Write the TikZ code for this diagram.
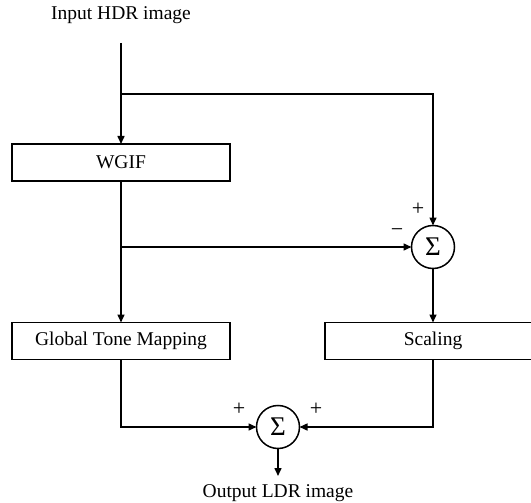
\documentclass[tikz,border=0pt]{standalone}
\usepackage{fontspec}
\setmainfont{Liberation Serif}
\usetikzlibrary{arrows.meta}
\begin{document}
\begin{tikzpicture}[x=1pt,y=-1pt,
  every node/.style={font=\fontsize{19.5}{22}\selectfont},
  blk/.style={draw,line width=1.5pt,rectangle,inner sep=0pt,outer sep=0pt,minimum height=37pt},
  sumnode/.style={draw,line width=1.5pt,circle,inner sep=0pt,outer sep=0pt,minimum size=43pt,font=\fontsize{27}{29}\selectfont},
  sgn/.style={font=\fontsize{22}{24}\selectfont,inner sep=0pt},
  conn/.style={line width=1.5pt,-{Triangle[length=8pt,width=7pt]}},
  wire/.style={line width=1.5pt}]
\useasboundingbox (0,0) rectangle (531,503);
\clip (0,0) rectangle (531,503);
\node (in) at (121,15) {Input HDR image};
\coordinate (start) at (121,43);
\coordinate (b1) at (121,94);
\node[blk,minimum width=218pt] (wgif) at (121,162.5) {WGIF};
\node[sumnode] (s1) at (433,247) {Σ};
\coordinate (b2) at (121,247);
\node[blk,minimum width=218pt] (gtm) at (121,341) {Global Tone Mapping};
\node[blk,minimum width=216pt] (scal) at (433,341) {Scaling};
\node[sumnode] (s2) at (278,427) {Σ};
\coordinate (oend) at (278,476);
\node (out) at (278,493) {Output LDR image};
\node[sgn] (p1) at (418,209) {+};
\node[sgn] (m1) at (397,233) {−};
\node[sgn] (p2) at (239,409) {+};
\node[sgn] (p3) at (316,409) {+};
\draw[conn] (start) -- (wgif.north);
\draw[conn] (b1) -| (s1.north);
\draw[conn] (wgif.south) -- (gtm.north);
\draw[conn] (b2) -- (s1.west);
\draw[conn] (s1.south) -- (scal.north);
\draw[conn] (gtm.south) |- (s2.west);
\draw[conn] (scal.south) |- (s2.east);
\draw[conn] (s2.south) -- (oend);
\end{tikzpicture}
\end{document}
